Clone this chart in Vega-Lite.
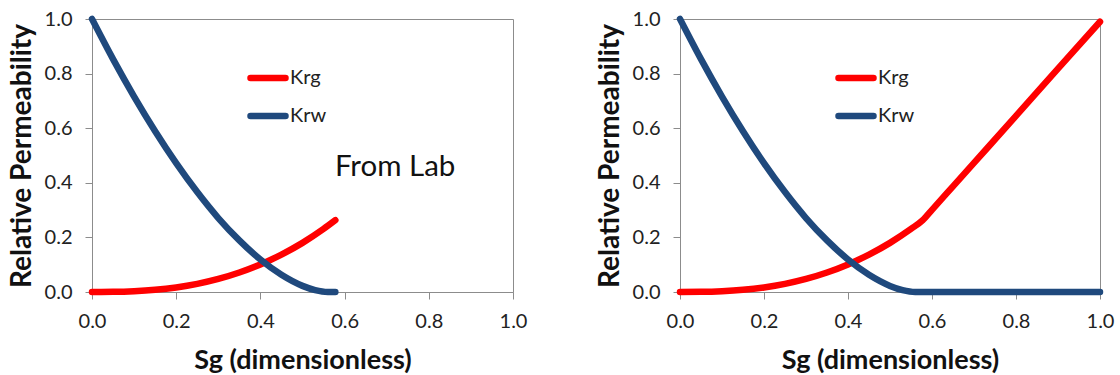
{
  "$schema": "https://vega.github.io/schema/vega-lite/v6.json",
  "background": "white",
  "padding": {"left": 7, "top": 8, "right": 5, "bottom": 0},
  "bounds": "flush",
  "spacing": 167,
  "datasets": {
    "lab": [
      {"sg": 0, "kr": 0, "series": "Krg"},
      {"sg": 0.05, "kr": 0.0005, "series": "Krg"},
      {"sg": 0.1, "kr": 0.0028, "series": "Krg"},
      {"sg": 0.15, "kr": 0.0079, "series": "Krg"},
      {"sg": 0.2, "kr": 0.0167, "series": "Krg"},
      {"sg": 0.25, "kr": 0.0298, "series": "Krg"},
      {"sg": 0.3, "kr": 0.0478, "series": "Krg"},
      {"sg": 0.35, "kr": 0.0714, "series": "Krg"},
      {"sg": 0.4, "kr": 0.101, "series": "Krg"},
      {"sg": 0.45, "kr": 0.137, "series": "Krg"},
      {"sg": 0.5, "kr": 0.18, "series": "Krg"},
      {"sg": 0.55, "kr": 0.231, "series": "Krg"},
      {"sg": 0.578, "kr": 0.263, "series": "Krg"},
      {"sg": 0, "kr": 1, "series": "Krw"},
      {"sg": 0.05, "kr": 0.853, "series": "Krw"},
      {"sg": 0.1, "kr": 0.716, "series": "Krw"},
      {"sg": 0.15, "kr": 0.589, "series": "Krw"},
      {"sg": 0.2, "kr": 0.472, "series": "Krw"},
      {"sg": 0.25, "kr": 0.366, "series": "Krw"},
      {"sg": 0.3, "kr": 0.271, "series": "Krw"},
      {"sg": 0.35, "kr": 0.189, "series": "Krw"},
      {"sg": 0.4, "kr": 0.119, "series": "Krw"},
      {"sg": 0.45, "kr": 0.063, "series": "Krw"},
      {"sg": 0.5, "kr": 0.0224, "series": "Krw"},
      {"sg": 0.53, "kr": 0.0069, "series": "Krw"},
      {"sg": 0.56, "kr": 0, "series": "Krw"},
      {"sg": 0.578, "kr": 0, "series": "Krw"}
    ],
    "ext": [
      {"sg": 0, "kr": 0, "series": "Krg"},
      {"sg": 0.05, "kr": 0.0005, "series": "Krg"},
      {"sg": 0.1, "kr": 0.0028, "series": "Krg"},
      {"sg": 0.15, "kr": 0.0079, "series": "Krg"},
      {"sg": 0.2, "kr": 0.0167, "series": "Krg"},
      {"sg": 0.25, "kr": 0.0298, "series": "Krg"},
      {"sg": 0.3, "kr": 0.0478, "series": "Krg"},
      {"sg": 0.35, "kr": 0.0714, "series": "Krg"},
      {"sg": 0.4, "kr": 0.101, "series": "Krg"},
      {"sg": 0.45, "kr": 0.137, "series": "Krg"},
      {"sg": 0.5, "kr": 0.18, "series": "Krg"},
      {"sg": 0.55, "kr": 0.231, "series": "Krg"},
      {"sg": 0.578, "kr": 0.263, "series": "Krg"},
      {"sg": 0.6, "kr": 0.301, "series": "Krg"},
      {"sg": 0.65, "kr": 0.387, "series": "Krg"},
      {"sg": 0.7, "kr": 0.473, "series": "Krg"},
      {"sg": 0.8, "kr": 0.645, "series": "Krg"},
      {"sg": 0.9, "kr": 0.818, "series": "Krg"},
      {"sg": 1.0, "kr": 0.99, "series": "Krg"},
      {"sg": 0, "kr": 1, "series": "Krw"},
      {"sg": 0.05, "kr": 0.853, "series": "Krw"},
      {"sg": 0.1, "kr": 0.716, "series": "Krw"},
      {"sg": 0.15, "kr": 0.589, "series": "Krw"},
      {"sg": 0.2, "kr": 0.472, "series": "Krw"},
      {"sg": 0.25, "kr": 0.366, "series": "Krw"},
      {"sg": 0.3, "kr": 0.271, "series": "Krw"},
      {"sg": 0.35, "kr": 0.189, "series": "Krw"},
      {"sg": 0.4, "kr": 0.119, "series": "Krw"},
      {"sg": 0.45, "kr": 0.063, "series": "Krw"},
      {"sg": 0.5, "kr": 0.0224, "series": "Krw"},
      {"sg": 0.53, "kr": 0.0069, "series": "Krw"},
      {"sg": 0.56, "kr": 0, "series": "Krw"},
      {"sg": 0.8, "kr": 0, "series": "Krw"},
      {"sg": 1.0, "kr": 0, "series": "Krw"}
    ]
  },
  "config": {
    "font": "Lato",
    "view": {"stroke": "#8c8c8c", "strokeWidth": 1},
    "axis": {
      "grid": false,
      "domainColor": "#8c8c8c",
      "tickColor": "#8c8c8c",
      "tickSize": 7,
      "labelFont": "Lato",
      "labelFontSize": 20,
      "labelColor": "#222222",
      "labelFlush": false,
      "titleFont": "Lato",
      "titleFontWeight": "bold",
      "titleColor": "#111111"
    },
    "legend": {
      "labelFont": "Lato",
      "labelFontSize": 20,
      "labelColor": "#222222"
    }
  },
  "resolve": {"scale": {"color": "independent"}, "legend": {"color": "independent"}},
  "hconcat": [
    {
      "width": 421,
      "height": 273,
      "layer": [
        {
          "data": {"name": "lab"},
          "mark": {"type": "line", "strokeWidth": 6.5, "strokeCap": "round", "strokeJoin": "round", "interpolate": "monotone"},
          "encoding": {
            "x": {"field": "sg", "type": "quantitative", "scale": {"domain": [0, 1], "nice": false}, "axis": {"values": [0, 0.2, 0.4, 0.6, 0.8, 1.0], "format": ".1f", "labelPadding": 12, "titlePadding": 16, "titleFontSize": 27}, "title": "Sg (dimensionless)"},
            "y": {"field": "kr", "type": "quantitative", "scale": {"domain": [0, 1], "nice": false}, "axis": {"values": [0, 0.2, 0.4, 0.6, 0.8, 1.0], "format": ".1f", "labelPadding": 13, "titlePadding": 8, "titleFontSize": 28}, "title": "Relative Permeability"},
            "color": {
              "field": "series", "type": "nominal",
              "scale": {"domain": ["Krg", "Krw"], "range": ["#FF0000", "#1F497D"]},
              "legend": {"orient": "none", "legendX": 155, "legendY": 38, "title": null, "symbolType": "stroke", "symbolSize": 1225, "symbolStrokeWidth": 6.5, "labelOffset": 1, "rowPadding": 4, "padding": 0,
                "encode": {"symbols": {"update": {"strokeCap": {"value": "round"}}}}}
            }
          }
        },
        {
          "data": {"values": [{}]},
          "mark": {"type": "text", "text": "From Lab", "font": "Lato", "fontSize": 29.5, "align": "center", "baseline": "middle", "color": "#111111"},
          "encoding": {
            "x": {"datum": 0.72, "type": "quantitative"},
            "y": {"datum": 0.458, "type": "quantitative"}
          }
        }
      ]
    },
    {
      "width": 420,
      "height": 273,
      "data": {"name": "ext"},
      "mark": {"type": "line", "strokeWidth": 6.5, "strokeCap": "round", "strokeJoin": "round", "interpolate": "monotone"},
      "encoding": {
        "x": {"field": "sg", "type": "quantitative", "scale": {"domain": [0, 1], "nice": false}, "axis": {"values": [0, 0.2, 0.4, 0.6, 0.8, 1.0], "format": ".1f", "labelPadding": 12, "titlePadding": 16, "titleFontSize": 27}, "title": "Sg (dimensionless)"},
        "y": {"field": "kr", "type": "quantitative", "scale": {"domain": [0, 1], "nice": false}, "axis": {"values": [0, 0.2, 0.4, 0.6, 0.8, 1.0], "format": ".1f", "labelPadding": 13, "titlePadding": 8, "titleFontSize": 28}, "title": "Relative Permeability"},
        "color": {
          "field": "series", "type": "nominal",
          "scale": {"domain": ["Krg", "Krw"], "range": ["#FF0000", "#1F497D"]},
          "legend": {"orient": "none", "legendX": 155, "legendY": 38, "title": null, "symbolType": "stroke", "symbolSize": 1225, "symbolStrokeWidth": 6.5, "labelOffset": 1, "rowPadding": 4, "padding": 0,
            "encode": {"symbols": {"update": {"strokeCap": {"value": "round"}}}}}
        }
      }
    }
  ]
}
